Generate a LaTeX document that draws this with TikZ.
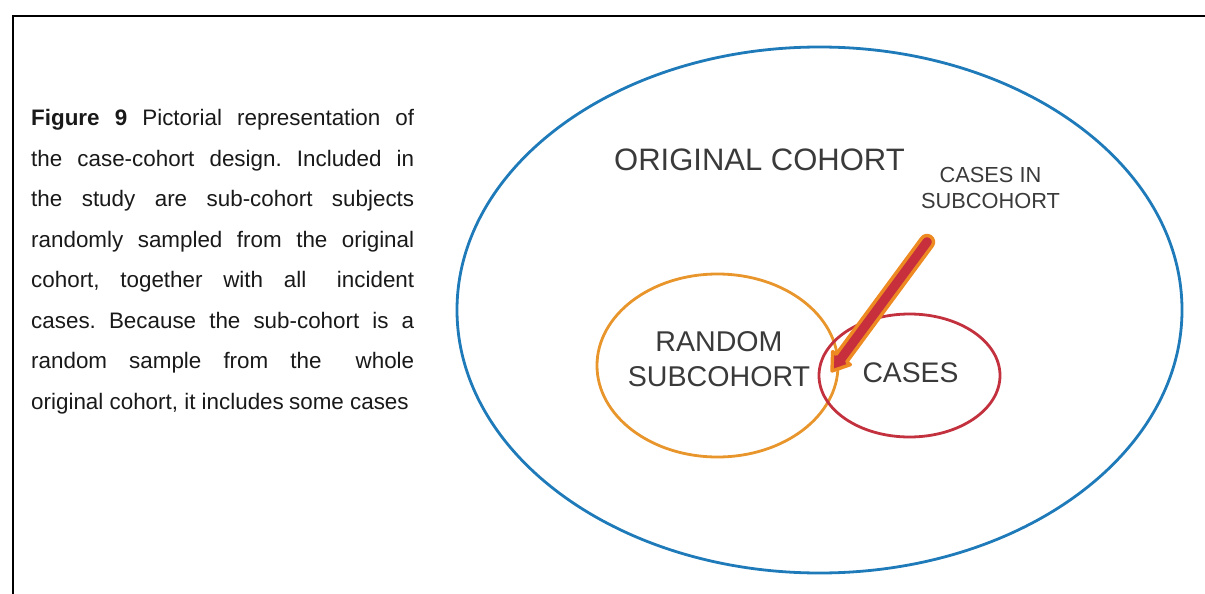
\documentclass[tikz,border=0pt]{standalone}
\usepackage{fontspec}
\setmainfont{Liberation Sans}
\usetikzlibrary{calc}
\definecolor{cohortblue}{HTML}{1E7AB8}
\definecolor{subcohortorange}{HTML}{E8952B}
\definecolor{casesred}{HTML}{C2313D}
\definecolor{arrowred}{HTML}{C62F3B}
\definecolor{arroworange}{HTML}{EE8A22}
\definecolor{labelgray}{HTML}{3A3A3A}
\newcommand\capfont{\fontsize{22.4}{26}\selectfont}
\frenchspacing
\begin{document}
\begin{tikzpicture}[x=1pt,y=1pt,
  capline/.style={anchor=base west, inner sep=0pt, font=\capfont, text=black!90},
  setlabel/.style={inner sep=0pt, text=labelgray, align=center},
  setring/.style={line width=2.8pt}]
\useasboundingbox (0,0) rectangle (1205,-594);

% frame
\draw[line width=2pt] (1206,-16) -- (13,-16) -- (13,-595);

% caption
\node[capline] (cap1) at (31,-125.5) {\makebox[383pt][s]{\textbf{Figure 9} Pictorial representation of}};
\node[capline] (cap2) at (31,-166) {\makebox[383pt][s]{the case-cohort design. Included in}};
\node[capline] (cap3) at (31,-206.5) {\makebox[383pt][s]{the study are sub-cohort subjects}};
\node[capline] (cap4) at (31,-247) {\makebox[383pt][s]{randomly sampled from the original}};
\node[capline] (cap5) at (31,-287.5) {\makebox[383pt][s]{cohort, together with all\hspace{10pt} incident}};
\node[capline] (cap6) at (31,-328) {\makebox[383pt][s]{cases. Because the sub-cohort is a}};
\node[capline] (cap7) at (31,-368.5) {\makebox[383pt][s]{random sample from the\hspace{12pt} whole}};
\node[capline] (cap8) at (31,-409) {original cohort, it includes\hspace{-1pt} some cases};

% sets
\coordinate (cohortc) at (819.5,-310);
\coordinate (subc) at (717.5,-365.5);
\coordinate (casesc) at (909.5,-375.5);
\draw[setring, cohortblue] (cohortc) ellipse [x radius=362.5, y radius=263];
\draw[setring, subcohortorange] (subc) ellipse [x radius=120.5, y radius=91.5];
\draw[setring, casesred] (casesc) ellipse [x radius=90.5, y radius=61.5];

% labels
\node[setlabel, anchor=base, font=\fontsize{31}{36}\selectfont] (orig) at (759.5,-170) {ORIGINAL COHORT};
\node[setlabel, font=\fontsize{21.8}{26}\selectfont] (insub) at (990.5,-188) {CASES IN\\SUBCOHORT};
\node[setlabel, font=\fontsize{28.6}{35}\selectfont] (rand) at (719,-359.5) {RANDOM\\SUBCOHORT};
\node[setlabel, anchor=base, font=\fontsize{28.3}{34}\selectfont] (cases) at (910.5,-382) {CASES};

% arrow pointing into the overlap
\coordinate (T) at (927,-242);
\coordinate (P) at (832,-371);
\coordinate (B) at ($(P)!16pt!(T)$);
\fill[arrowred, draw=arroworange, line width=3.4pt, line join=round]
  ($(T)!6.5pt!90:(P)$) -- ($(B)!6.5pt!90:(P)$) -- ($(B)!11pt!90:(P)$) -- (P)
  -- ($(B)!11pt!-90:(P)$) -- ($(B)!6.5pt!-90:(P)$) -- ($(T)!6.5pt!-90:(P)$)
  arc[start angle=143.6, end angle=-36.4, radius=6.5pt] -- cycle;
\end{tikzpicture}
\end{document}
